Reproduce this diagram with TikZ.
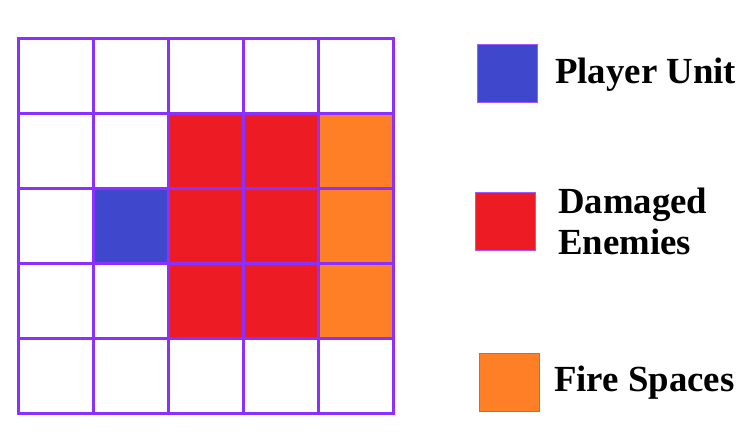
\documentclass[tikz,border=0pt]{standalone}
\usepackage{fontspec}
\setmainfont{Liberation Serif}
\definecolor{gridpurple}{RGB}{140,48,255}
\definecolor{unitblue}{RGB}{63,72,204}
\definecolor{enemyred}{RGB}{237,28,36}
\definecolor{fireorange}{RGB}{255,127,39}
\begin{document}
\begin{tikzpicture}[x=1pt,y=-1pt,
  gridline/.style={draw=gridpurple,line width=3pt,line cap=rect},
  legendbox/.style={draw=gridpurple!80,line width=1pt,minimum width=60pt,minimum height=58pt,inner sep=0pt,anchor=north west},
  legendtext/.style={font=\fontsize{36.8}{41}\selectfont\bfseries,inner sep=0pt,align=left}]
\useasboundingbox (0,0) rectangle (748,443);
% filled cells
\fill[unitblue] (93.3,189) rectangle (168.3,264);
\foreach \c in {168.3,243.3}{
  \foreach \r in {114,189,264}{
    \fill[enemyred] (\c,\r) rectangle ++(75,75);
  }
}
\foreach \r in {114,189,264}{
  \fill[fireorange] (318.3,\r) rectangle ++(75,75);
}
% grid
\foreach \i in {0,...,5}{
  \draw[gridline] (18.3+75*\i,39) -- (18.3+75*\i,414);
  \draw[gridline] (18.3,39+75*\i) -- (393.3,39+75*\i);
}
% legend
\node[legendbox,fill=unitblue] (lunit) at (476.5,44.5) {};
\node[legendbox,fill=enemyred] (lenemy) at (474.5,192.5) {};
\node[legendbox,fill=fireorange] (lfire) at (478.5,353.5) {};
\node[legendtext,anchor=base west] (tunit) at (555,83.3) {Player Unit};
\node[legendtext,anchor=base west] (tenemy) at (558,254.3) {Damaged\\Enemies};
\node[legendtext,anchor=base west] (tfire) at (554,391.7) {Fire Spaces};
\end{tikzpicture}
\end{document}
